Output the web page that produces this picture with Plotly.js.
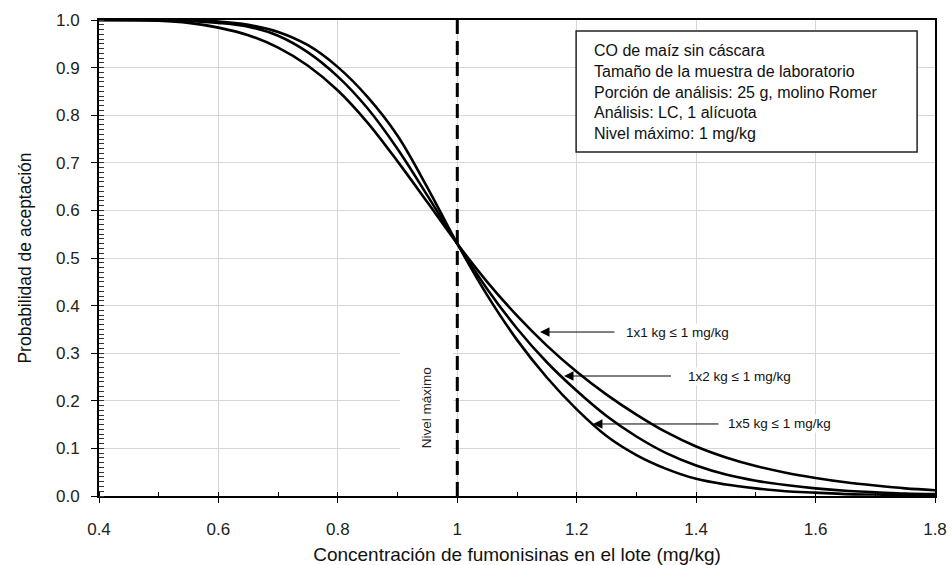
<!DOCTYPE html>
<html>
<head>
<meta charset="utf-8">
<script src="https://cdn.plot.ly/plotly-3.0.1.min.js"></script>
<style>html,body{margin:0;padding:0;background:#fff;}#chart{width:952px;height:565px;}</style>
</head>
<body>
<div id="chart"></div>
<script>
// ---- data ----
const concentration = [0.40,0.45,0.50,0.55,0.60,0.65,0.70,0.75,0.80,0.85,0.90,0.95,1.00,1.05,1.10,1.15,1.20,1.25,1.30,1.35,1.40,1.45,1.50,1.55,1.60,1.65,1.70,1.75,1.80];
const pa1x1 = [1.000,0.9997,0.9985,0.994,0.984,0.968,0.942,0.904,0.852,0.784,0.703,0.617,0.530,0.450,0.379,0.316,0.261,0.213,0.171,0.134,0.104,0.081,0.063,0.049,0.038,0.029,0.022,0.016,0.012];
const pa1x2 = [1.000,1.000,0.9995,0.998,0.994,0.986,0.967,0.932,0.881,0.814,0.729,0.631,0.530,0.435,0.352,0.281,0.221,0.168,0.125,0.090,0.064,0.045,0.032,0.023,0.016,0.011,0.008,0.005,0.004];
const pa1x5 = [1.000,1.000,1.000,0.999,0.997,0.990,0.975,0.947,0.901,0.838,0.757,0.648,0.530,0.422,0.328,0.249,0.182,0.126,0.086,0.057,0.036,0.024,0.016,0.010,0.007,0.004,0.003,0.002,0.001];
const seriesNames = ['1x1 kg ≤ 1 mg/kg','1x2 kg ≤ 1 mg/kg','1x5 kg ≤ 1 mg/kg'];
const maxLevel = 1;
const infoLines = ['CO de maíz sin cáscara','Tamaño de la muestra de laboratorio','Porción de análisis: 25 g, molino Romer','Análisis: LC, 1 alícuota','Nivel máximo: 1 mg/kg'];
const xTitle = 'Concentración de fumonisinas en el lote (mg/kg)';
const yTitle = 'Probabilidad de aceptación';
const limitLabel = 'Nivel máximo';

const SANS = 'Liberation Sans, Arial, sans-serif';

const lineStyle = {color:'#000', width:2.6, shape:'spline', smoothing:1};
const traces = [pa1x1, pa1x2, pa1x5].map((ys, i) => ({
  type:'scatter', mode:'lines', x:concentration, y:ys, name:seriesNames[i],
  line:lineStyle, hoverinfo:'skip'
}));

const arrowCommon = {xref:'x', yref:'y', axref:'x', ayref:'y', showarrow:true,
  arrowhead:2, arrowsize:1.9, arrowwidth:1, arrowcolor:'#000',
  bgcolor:'#fff', borderpad:1, font:{family:SANS, size:13.5, color:'#111'}};

const layout = {
  width:952, height:565,
  margin:{l:99, r:17, t:20, b:69},
  paper_bgcolor:'#fff', plot_bgcolor:'#fff',
  showlegend:false,
  font:{family:SANS, color:'#111'},
  xaxis:{
    range:[0.4,1.8], tick0:0.4, dtick:0.2, showgrid:true, gridcolor:'#d6d6d6', gridwidth:1,
    zeroline:false, showline:true, linecolor:'#000', linewidth:2, mirror:true,
    ticks:'outside', ticklen:5, tickcolor:'#000', tickwidth:1, ticklabelstandoff:12,
    tickfont:{family:SANS, size:17, color:'#222'},
    minor:{dtick:0.1, ticks:'inside', ticklen:4, tickcolor:'#000', tickwidth:1, showgrid:false},
    title:{text:xTitle, font:{family:SANS, size:19, color:'#111'}, standoff:16}
  },
  yaxis:{
    range:[0,1], dtick:0.1, tickformat:'.1f', showgrid:true, gridcolor:'#d6d6d6', gridwidth:1,
    zeroline:false, showline:true, linecolor:'#000', linewidth:2, mirror:true,
    ticks:'outside', ticklen:6, tickcolor:'#000', tickwidth:1, ticklabelstandoff:8,
    tickfont:{family:SANS, size:17, color:'#222'},
    minor:{dtick:0.01, ticks:'inside', ticklen:5, tickcolor:'#333', tickwidth:1, showgrid:false},
    title:{text:yTitle, font:{family:SANS, size:17.5, color:'#111'}, standoff:20}
  },
  shapes:[
    {type:'rect', layer:'between', xref:'x', yref:'y', x0:0.904, x1:0.993, y0:0.01, y1:0.35,
     fillcolor:'#fff', line:{width:0}},
    {type:'line', layer:'above', xref:'x', yref:'y', x0:maxLevel, x1:maxLevel, y0:0, y1:1,
     line:{color:'#000', width:3, dash:'14px,7px'}},
    {type:'rect', layer:'above', xref:'x', yref:'y', x0:1.199, x1:1.770, y0:0.7227, y1:0.977,
     fillcolor:'#fff', line:{color:'#222', width:1.5}}
  ],
  annotations:[
    {xref:'x', yref:'y', x:1.2256, y:0.8487, xanchor:'left', yanchor:'middle', align:'left',
     showarrow:false, text:infoLines.join('<br>'), font:{family:SANS, size:16, color:'#111'}},
    {xref:'x', yref:'y', x:0.949, y:0.186, textangle:-90, showarrow:false, text:limitLabel,
     font:{family:SANS, size:13.5, color:'#222'}},
    Object.assign({}, arrowCommon, {x:1.1385, y:0.3445, ax:1.3688, ay:0.3445, text:seriesNames[0], startstandoff:10}),
    Object.assign({}, arrowCommon, {x:1.1787, y:0.2521, ax:1.4718, ay:0.2521, text:seriesNames[1], startstandoff:15}),
    Object.assign({}, arrowCommon, {x:1.2272, y:0.1513, ax:1.5396, ay:0.1513, text:seriesNames[2], startstandoff:8})
  ]
};

Plotly.newPlot('chart', traces, layout, {staticPlot:true, displayModeBar:false});
</script>
</body>
</html>
